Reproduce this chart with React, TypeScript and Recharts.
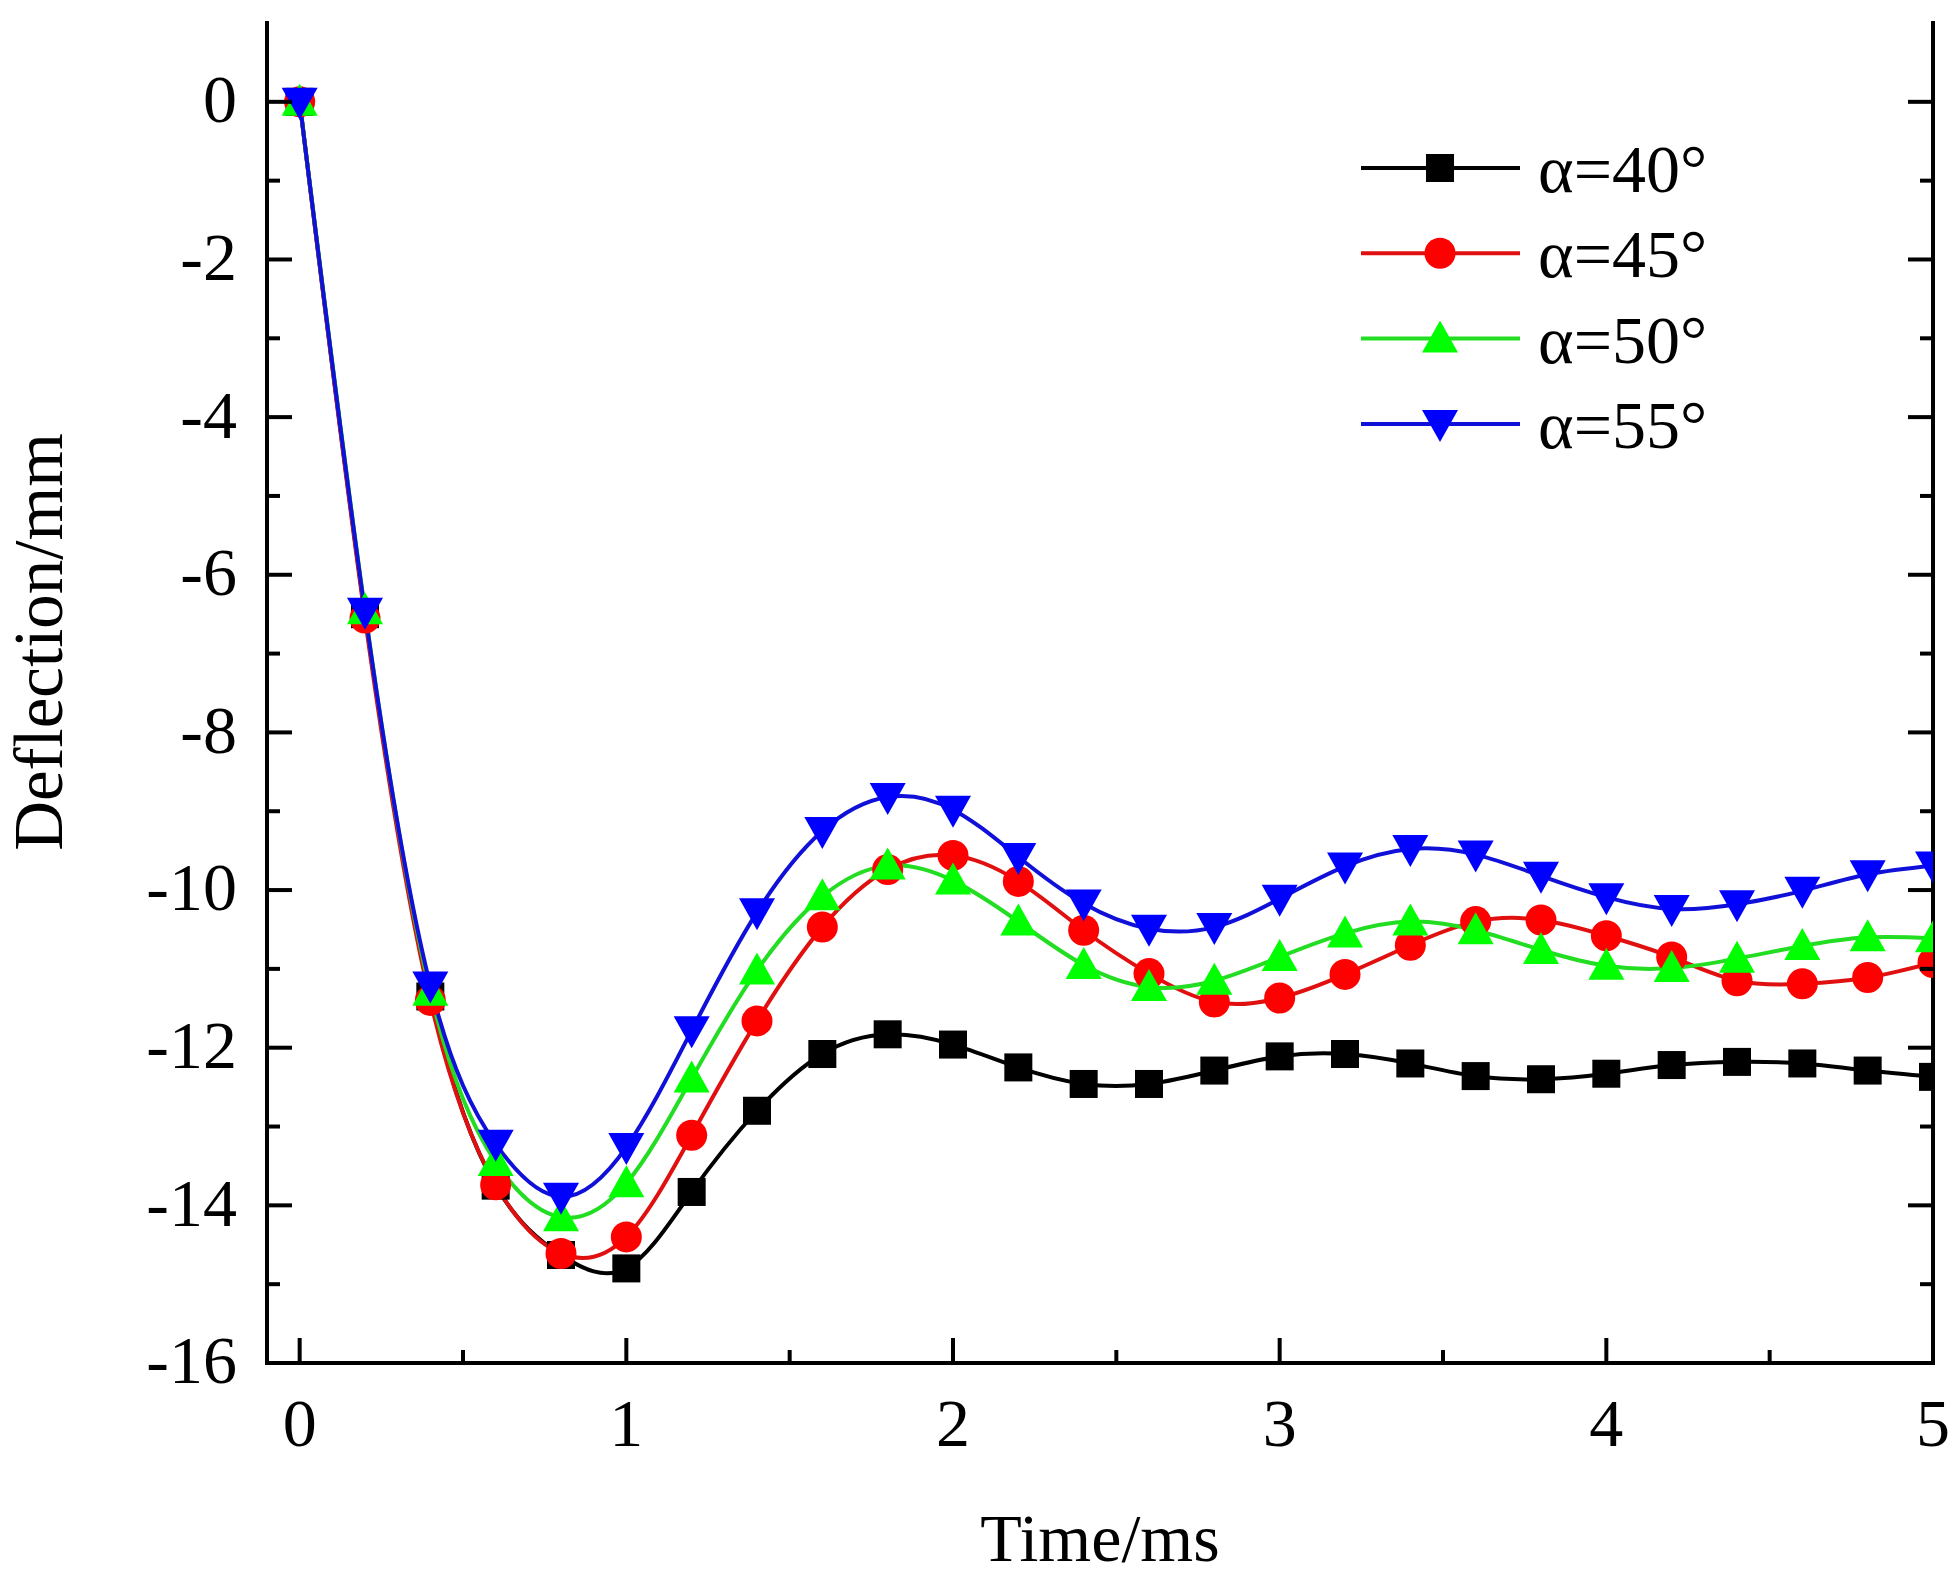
import { Label, Legend, Line, LineChart, XAxis, YAxis } from "recharts";

// Time / ms, one marker every 0.2 ms
const TIME = [
  0, 0.2, 0.4, 0.6, 0.8, 1.0, 1.2, 1.4, 1.6, 1.8, 2.0, 2.2, 2.4, 2.6, 2.8, 3.0, 3.2, 3.4, 3.6, 3.8, 4.0, 4.2,
  4.4, 4.6, 4.8, 5.0,
];

// Deflection / mm
const ALPHA_40 = [
  0, -6.5, -11.35, -13.75, -14.63, -14.8, -13.83, -12.8, -12.08, -11.83, -11.96, -12.25, -12.46, -12.46, -12.29,
  -12.11, -12.08, -12.2, -12.36, -12.4, -12.33, -12.22, -12.18, -12.2, -12.29, -12.37,
];
const ALPHA_45 = [
  0, -6.55, -11.4, -13.74, -14.61, -14.4, -13.11, -11.66, -10.47, -9.74, -9.56, -9.89, -10.51, -11.06, -11.42,
  -11.37, -11.07, -10.7, -10.4, -10.38, -10.58, -10.85, -11.15, -11.19, -11.11, -10.92,
];
const ALPHA_50 = [
  0, -6.45, -11.29, -13.45, -14.15, -13.72, -12.39, -11.02, -10.08, -9.69, -9.88, -10.4, -10.95, -11.23, -11.15,
  -10.85, -10.55, -10.4, -10.51, -10.76, -10.96, -10.99, -10.87, -10.71, -10.6, -10.61,
];
const ALPHA_55 = [
  0, -6.47, -11.21, -13.22, -13.89, -13.26, -11.78, -10.28, -9.25, -8.82, -8.98, -9.58, -10.17, -10.49, -10.47,
  -10.11, -9.7, -9.48, -9.55, -9.82, -10.09, -10.24, -10.18, -10.01, -9.8, -9.69,
];

const SERIES_KEYS = ["a40", "a45", "a50", "a55"];
const SERIES_NAMES = ["α=40°", "α=45°", "α=50°", "α=55°"];
const SERIES_VALUES = [ALPHA_40, ALPHA_45, ALPHA_50, ALPHA_55];

const X_TICKS = [0, 0.5, 1, 1.5, 2, 2.5, 3, 3.5, 4, 4.5, 5];
const Y_TICKS = [0, -1, -2, -3, -4, -5, -6, -7, -8, -9, -10, -11, -12, -13, -14, -15, -16];

// styles, kept apart from the values
const LINE_COLORS = ["#000000", "#e01010", "#22dd22", "#1010d8"];
const MARK_COLORS = ["#000000", "#ff0000", "#00ff00", "#0000ff"];
const MARKERS = ["square", "circle", "triangleUp", "triangleDown"];

const FONT = '"Liberation Serif", "Times New Roman", Times, serif';
const FONT_SIZE = 68;
const MAJOR = 25;
const MINOR = 13;

const data = TIME.map((t, i) => {
  const row: Record<string, number> = { t };
  SERIES_KEYS.forEach((k, s) => {
    row[k] = SERIES_VALUES[s][i];
  });
  return row;
});

function Marker({ shape, cx, cy, color }: { shape: string; cx: number; cy: number; color: string }) {
  if (shape === "square") return <rect x={cx - 14} y={cy - 14} width={28} height={28} fill={color} />;
  if (shape === "circle") return <circle cx={cx} cy={cy} r={15.5} fill={color} />;
  if (shape === "triangleUp")
    return <polygon points={`${cx},${cy - 18} ${cx - 18},${cy + 14} ${cx + 18},${cy + 14}`} fill={color} />;
  return <polygon points={`${cx - 18},${cy - 14} ${cx + 18},${cy - 14} ${cx},${cy + 18}`} fill={color} />;
}

const renderDot = (shape: string, color: string) => (props: any) => {
  const { cx, cy, index } = props;
  if (cx == null || cy == null) return <g key={index} />;
  return <Marker key={index} shape={shape} cx={cx} cy={cy} color={color} />;
};

const isMajorX = (v: number) => Math.abs(v - Math.round(v)) < 1e-6;
const isMajorY = (v: number) => Math.abs(v % 2) < 1e-6;

function BottomTick(props: any) {
  const { x, y, payload } = props;
  const major = isMajorX(payload.value);
  return (
    <g>
      <line x1={x} y1={y} x2={x} y2={y - (major ? MAJOR : MINOR)} stroke="#000" strokeWidth={4} />
      {major && (
        <text x={x} y={y + 83} textAnchor="middle" fontFamily={FONT} fontSize={FONT_SIZE} fill="#000">
          {payload.value}
        </text>
      )}
    </g>
  );
}

function TopTick(props: any) {
  const { x, y, payload } = props;
  const major = isMajorX(payload.value);
  return <line x1={x} y1={y} x2={x} y2={y + (major ? MAJOR : MINOR)} stroke="#000" strokeWidth={4} />;
}

function LeftTick(props: any) {
  const { x, y, payload } = props;
  const major = isMajorY(payload.value);
  return (
    <g>
      <line x1={x} y1={y} x2={x + (major ? MAJOR : MINOR)} y2={y} stroke="#000" strokeWidth={4} />
      {major && (
        <text x={x - 30} y={y} dy="0.3em" textAnchor="end" fontFamily={FONT} fontSize={FONT_SIZE} fill="#000">
          {String(payload.value)}
        </text>
      )}
    </g>
  );
}

function RightTick(props: any) {
  const { x, y, payload } = props;
  const major = isMajorY(payload.value);
  return <line x1={x} y1={y} x2={x - (major ? MAJOR : MINOR)} y2={y} stroke="#000" strokeWidth={4} />;
}

function LegendBox() {
  return (
    <svg width={480} height={350} style={{ display: "block" }}>
      {SERIES_NAMES.map((name, i) => {
        const cy = 48 + i * 85.3;
        return (
          <g key={name}>
            <line x1={21} y1={cy} x2={180} y2={cy} stroke={LINE_COLORS[i]} strokeWidth={4} />
            <Marker shape={MARKERS[i]} cx={100} cy={cy} color={MARK_COLORS[i]} />
            <text x={198} y={cy + 24} fontFamily={FONT} fontSize={FONT_SIZE} fill="#000">
              {name}
            </text>
          </g>
        );
      })}
    </svg>
  );
}

const frame = { stroke: "#000", strokeWidth: 4, strokeLinecap: "square" as const };

export default function App() {
  return (
    <div style={{ position: "absolute", left: 0, top: 0, width: 1958, height: 1582, background: "#fff" }}>
      <LineChart width={1958} height={1582} data={data} margin={{ top: 23, right: 0, bottom: 0, left: 0 }}>
        <XAxis
          xAxisId={0}
          dataKey="t"
          type="number"
          domain={[-0.1, 5]}
          ticks={X_TICKS}
          interval={0}
          allowDataOverflow
          height={219}
          axisLine={frame}
          tickLine={false}
          tickSize={0}
          tickMargin={0}
          tick={<BottomTick />}
        >
          <Label
            content={(p: any) => {
              const vb = p.viewBox;
              return (
                <text
                  x={vb.x + vb.width / 2}
                  y={vb.y + 198}
                  textAnchor="middle"
                  fontFamily={FONT}
                  fontSize={FONT_SIZE}
                  fill="#000"
                >
                  Time/ms
                </text>
              );
            }}
          />
        </XAxis>
        <XAxis
          xAxisId="top"
          orientation="top"
          dataKey="t"
          type="number"
          domain={[-0.1, 5]}
          ticks={X_TICKS}
          interval={0}
          allowDataOverflow
          height={0}
          axisLine={frame}
          tickLine={false}
          tickSize={0}
          tickMargin={0}
          tick={<TopTick />}
        />
        <YAxis
          yAxisId={0}
          type="number"
          domain={[-16, 1]}
          ticks={Y_TICKS}
          interval={0}
          allowDataOverflow
          width={267}
          axisLine={frame}
          tickLine={false}
          tickSize={0}
          tickMargin={0}
          tick={<LeftTick />}
        >
          <Label
            content={(p: any) => {
              const vb = p.viewBox;
              const cx = vb.x + 62;
              const cy = vb.y + vb.height / 2 - 51;
              return (
                <text
                  x={cx}
                  y={cy}
                  transform={`rotate(-90, ${cx}, ${cy})`}
                  textAnchor="middle"
                  fontFamily={FONT}
                  fontSize={69}
                  fill="#000"
                >
                  Deflection/mm
                </text>
              );
            }}
          />
        </YAxis>
        <YAxis
          yAxisId="right"
          orientation="right"
          type="number"
          domain={[-16, 1]}
          ticks={Y_TICKS}
          interval={0}
          allowDataOverflow
          width={25}
          axisLine={frame}
          tickLine={false}
          tickSize={0}
          tickMargin={0}
          tick={<RightTick />}
        />
        <Legend
          layout="vertical"
          align="center"
          verticalAlign="middle"
          wrapperStyle={{ position: "absolute", left: 1340, top: 120, width: 480, height: 350 }}
          content={() => <LegendBox />}
        />
        {SERIES_KEYS.map((k, i) => (
          <Line
            key={k}
            xAxisId={0}
            yAxisId={0}
            type="natural"
            dataKey={k}
            name={SERIES_NAMES[i]}
            stroke={LINE_COLORS[i]}
            strokeWidth={4}
            dot={renderDot(MARKERS[i], MARK_COLORS[i])}
            activeDot={false}
            isAnimationActive={false}
          />
        ))}
      </LineChart>
    </div>
  );
}
